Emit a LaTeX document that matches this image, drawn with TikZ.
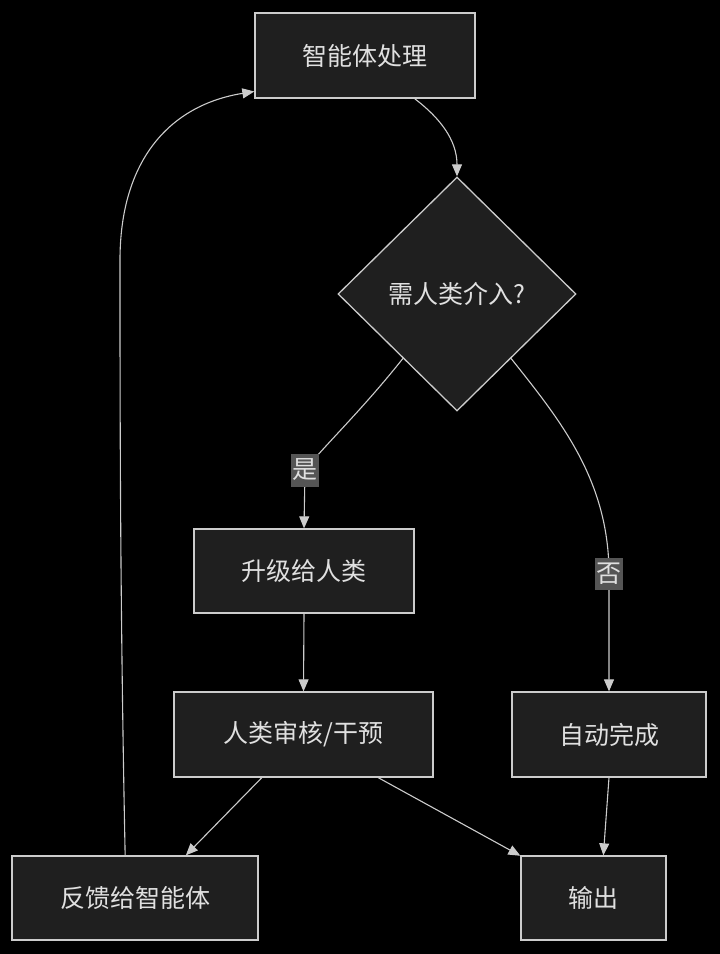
\documentclass[tikz,border=0pt]{standalone}
\usepackage{fontspec}
\setmainfont{Noto Sans CJK SC}
\usetikzlibrary{shapes.geometric,arrows.meta}
\definecolor{boxfill}{HTML}{1F1F1F}
\definecolor{boxline}{HTML}{CCCCCC}
\definecolor{txt}{HTML}{E0E0E0}
\definecolor{lblfill}{HTML}{555555}
\begin{document}
\begin{tikzpicture}
[x=1pt,y=-1pt,
box/.style={draw=boxline,fill=boxfill,line width=1.3pt,text=txt,minimum height=85pt,inner sep=0pt,font=\fontsize{25}{28}\selectfont},
decide/.style={diamond,draw=boxline,fill=boxfill,line width=1.3pt,text=txt,minimum width=238pt,minimum height=234pt,inner sep=0pt,font=\fontsize{25}{28}\selectfont},
lbl/.style={fill=lblfill,text=txt,inner xsep=1.5pt,inner ysep=5.5pt,font=\fontsize{25}{28}\selectfont},
arr/.style={draw=boxline,line width=1.1pt,-{Triangle[length=12pt,width=10pt]}}]
\fill[black] (0,0) rectangle (720,954);
\useasboundingbox (0,0) rectangle (720,954);
\node[box,minimum width=220pt] (proc) at (365,55.5) {智能体处理};
\node[decide] (dec) at (457,294) {需人类介入?};
\node[box,minimum width=220pt,minimum height=84pt] (esc) at (304,571) {升级给人类};
\node[box,minimum width=259pt] (aud) at (303.5,734.5) {人类审核/干预};
\node[box,minimum width=194pt] (auto) at (609,734.5) {自动完成};
\node[box,minimum width=246pt,minimum height=84pt] (fb) at (135,898) {反馈给智能体};
\node[box,minimum width=145pt,minimum height=84pt] (out) at (593.5,898) {输出};
\draw[arr] (proc.-41.5) .. controls (440,118) and (457,140) .. (dec.north);
\draw[arr] (dec.-130) .. controls (362,410) and (325,445) .. (305,470) node[lbl]{是} -- (esc.north);
\draw[arr] (dec.-50) .. controls (560,420) and (609,480) .. (609,574) node[lbl]{否} -- (auto.north);
\draw[arr] (esc.south) -- (aud.north);
\draw[arr] (aud.226) -- (fb.40);
\draw[arr] (aud.-30.7) -- (out.150);
\draw[arr] (auto.south) -- (out.77);
\draw[arr] (fb.103) .. controls (120,600) and (120,400) .. (120,260) .. controls (120,160) and (170,105) .. (proc.198);
\end{tikzpicture}
\end{document}
